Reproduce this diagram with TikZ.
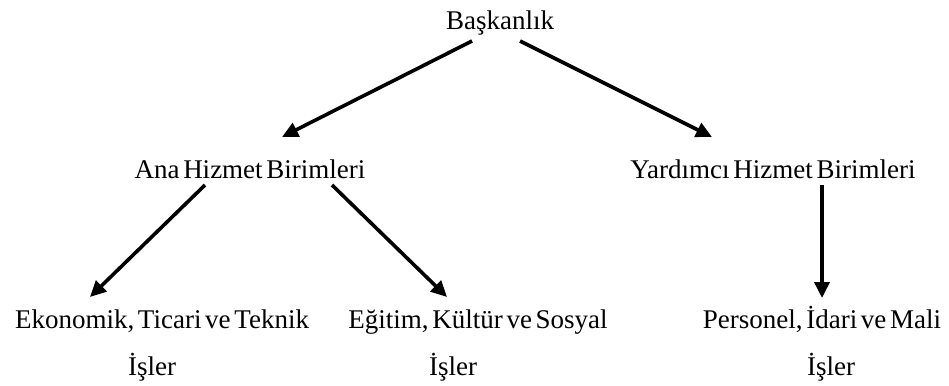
\documentclass[tikz,border=0pt]{standalone}
\usepackage{fontspec}
\setmainfont{Liberation Serif}[WordSpace=0.55]
\usetikzlibrary{arrows.meta}
\begin{document}
\begin{tikzpicture}[x=1pt,y=-1pt,
  lbl/.style={anchor=base,inner sep=0pt,font=\fontsize{27}{32}\selectfont},
  conn/.style={line width=3.6pt,-{Triangle[length=16pt,width=15pt]}}]
\useasboundingbox (0,0) rectangle (949,385);
\node[lbl] (bas) at (500,30) {Başkanlık};
\node[lbl] (ana) at (250,178) {Ana Hizmet Birimleri};
\node[lbl] (yar) at (773,178) {Yardımcı Hizmet Birimleri};
\node[lbl] (eko) at (162,328) {Ekonomik, Ticari ve Teknik};
\node[lbl] (ekoi) at (152,375) {İşler};
\node[lbl] (egi) at (478,328) {Eğitim, Kültür ve Sosyal};
\node[lbl] (egii) at (453,375) {İşler};
\node[lbl] (per) at (822,328) {Personel, İdari ve Mali};
\node[lbl] (peri) at (831,375) {İşler};
\draw[conn] ([shift={(-28,11)}]bas.base) -- ([shift={(32,-41)}]ana.base);
\draw[conn] ([shift={(20,11)}]bas.base) -- ([shift={(-61,-41)}]yar.base);
\draw[conn] ([shift={(-45,7)}]ana.base) -- ([shift={(-72,-31)}]eko.base);
\draw[conn] ([shift={(82,7)}]ana.base) -- ([shift={(-31,-31)}]egi.base);
\draw[conn] ([shift={(49,7)}]yar.base) -- ([shift={(0,-30)}]per.base);
\end{tikzpicture}
\end{document}
